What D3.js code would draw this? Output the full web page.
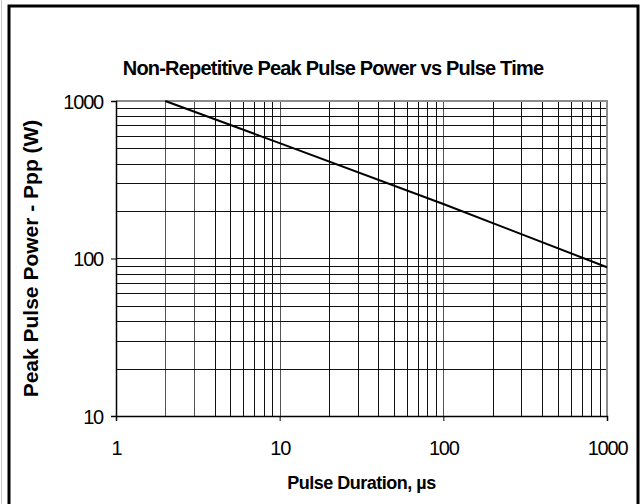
<!DOCTYPE html>
<html>
<head>
<meta charset="utf-8">
<script src="https://cdn.jsdelivr.net/npm/d3@7"></script>
<style>
  html, body { margin: 0; padding: 0; background: #fff; }
  svg { display: block; font-family: "Liberation Sans", Arial, sans-serif; }
</style>
</head>
<body>
<div id="chart"></div>
<script>
// Data
const pulseTime = [2, 10, 100, 1000]          // µs
const peakPower = [1000, 540, 222, 88]        // W
const xTicks = [1, 10, 100, 1000]
const yTicks = [10, 100, 1000]

const W = 640, H = 504
const margin = { top: 101, right: 33, bottom: 88, left: 116 }
const width = W - margin.left - margin.right
const height = H - margin.top - margin.bottom

const svg = d3.select("#chart")
	.append("svg")
	.attr("width", W)
	.attr("height", H)

// outer frame
svg.append("line")
	.attr("x1", 1.5).attr("x2", 1.5).attr("y1", 0).attr("y2", H)
	.attr("stroke", "#c8c8c8").attr("stroke-width", 1)
svg.append("rect")
	.attr("x", 9).attr("y", 6)
	.attr("width", 629).attr("height", H + 10)
	.attr("fill", "none")
	.attr("stroke", "#000")
	.attr("stroke-width", 3)

const g = svg.append("g")
	.attr("transform", `translate(${margin.left},${margin.top})`)

const x = d3.scaleLog().domain([1, 1000]).range([0, width])
const y = d3.scaleLog().domain([10, 1000]).range([height, 0])

// minor + major grid values
const xGrid = []
for (let d = 1; d < 1000; d *= 10)
	for (let k = 1; k <= 9; k++) xGrid.push(d * k)
const yGrid = []
for (let d = 10; d < 1000; d *= 10)
	for (let k = 1; k <= 9; k++) yGrid.push(d * k)

g.append("g").selectAll("line")
	.data(xGrid.filter((v) => v > 1))
	.join("line")
	.attr("x1", (d) => Math.round(x(d)) + 0.5)
	.attr("x2", (d) => Math.round(x(d)) + 0.5)
	.attr("y1", 0).attr("y2", height)
	.attr("stroke", (d) => [2, 3].includes(d) || [10, 100].includes(d) ? "#555" : "#111")
	.attr("stroke-width", 1)

g.append("g").selectAll("line")
	.data(yGrid.filter((v) => v > 10))
	.join("line")
	.attr("x1", 0).attr("x2", width)
	.attr("y1", (d) => Math.round(y(d)) + 0.5)
	.attr("y2", (d) => Math.round(y(d)) + 0.5)
	.attr("stroke", "#111")
	.attr("stroke-width", 1)

// plot border (top / right gray)
g.append("path")
	.attr("d", `M0,0H${width}V${height}`)
	.attr("fill", "none")
	.attr("stroke", "#8c8c8c")
	.attr("stroke-width", 2)

// axes
const xAxis = g.append("g")
	.attr("transform", `translate(0,${height})`)
	.call(d3.axisBottom(x).tickValues(xTicks).tickFormat(d3.format("d")).tickSize(5).tickPadding(20))
const yAxis = g.append("g")
	.call(d3.axisLeft(y).tickValues(yTicks).tickFormat(d3.format("d")).tickSize(5).tickPadding(8))

;[xAxis, yAxis].forEach((a) => {
	a.select(".domain").attr("stroke", "#000").attr("stroke-width", 1.5)
	a.selectAll(".tick line").attr("stroke", "#000")
	a.selectAll(".tick text")
		.attr("fill", "#000")
		.style("font-size", "20px")
		.style("letter-spacing", "-1.2px")
		.style("font-family", "'Liberation Sans', Arial, sans-serif")
})
yAxis.selectAll(".tick text").attr("dy", "0.36em")

// data line
const line = d3.line()
	.x((d, i) => x(pulseTime[i]))
	.y((d) => y(d))

g.append("path")
	.datum(peakPower)
	.attr("fill", "none")
	.attr("stroke", "#000")
	.attr("stroke-width", 2)
	.attr("d", line)

// titles
svg.append("text")
	.attr("x", 333).attr("y", 75)
	.attr("text-anchor", "middle")
	.style("font-size", "20px")
	.style("font-weight", "bold")
	.style("letter-spacing", "-0.8px")
	.text("Non-Repetitive Peak Pulse Power vs Pulse Time")

svg.append("text")
	.attr("x", margin.left + width / 2).attr("y", 489)
	.attr("text-anchor", "middle")
	.style("font-size", "18px")
	.style("font-weight", "bold")
	.style("letter-spacing", "-0.5px")
	.text("Pulse Duration, µs")

svg.append("text")
	.attr("transform", `translate(38,${margin.top + height / 2}) rotate(-90)`)
	.attr("text-anchor", "middle")
	.style("font-size", "21px")
	.style("font-weight", "bold")
	.style("letter-spacing", "0px")
	.text("Peak Pulse Power - Ppp (W)")
</script>
</body>
</html>
